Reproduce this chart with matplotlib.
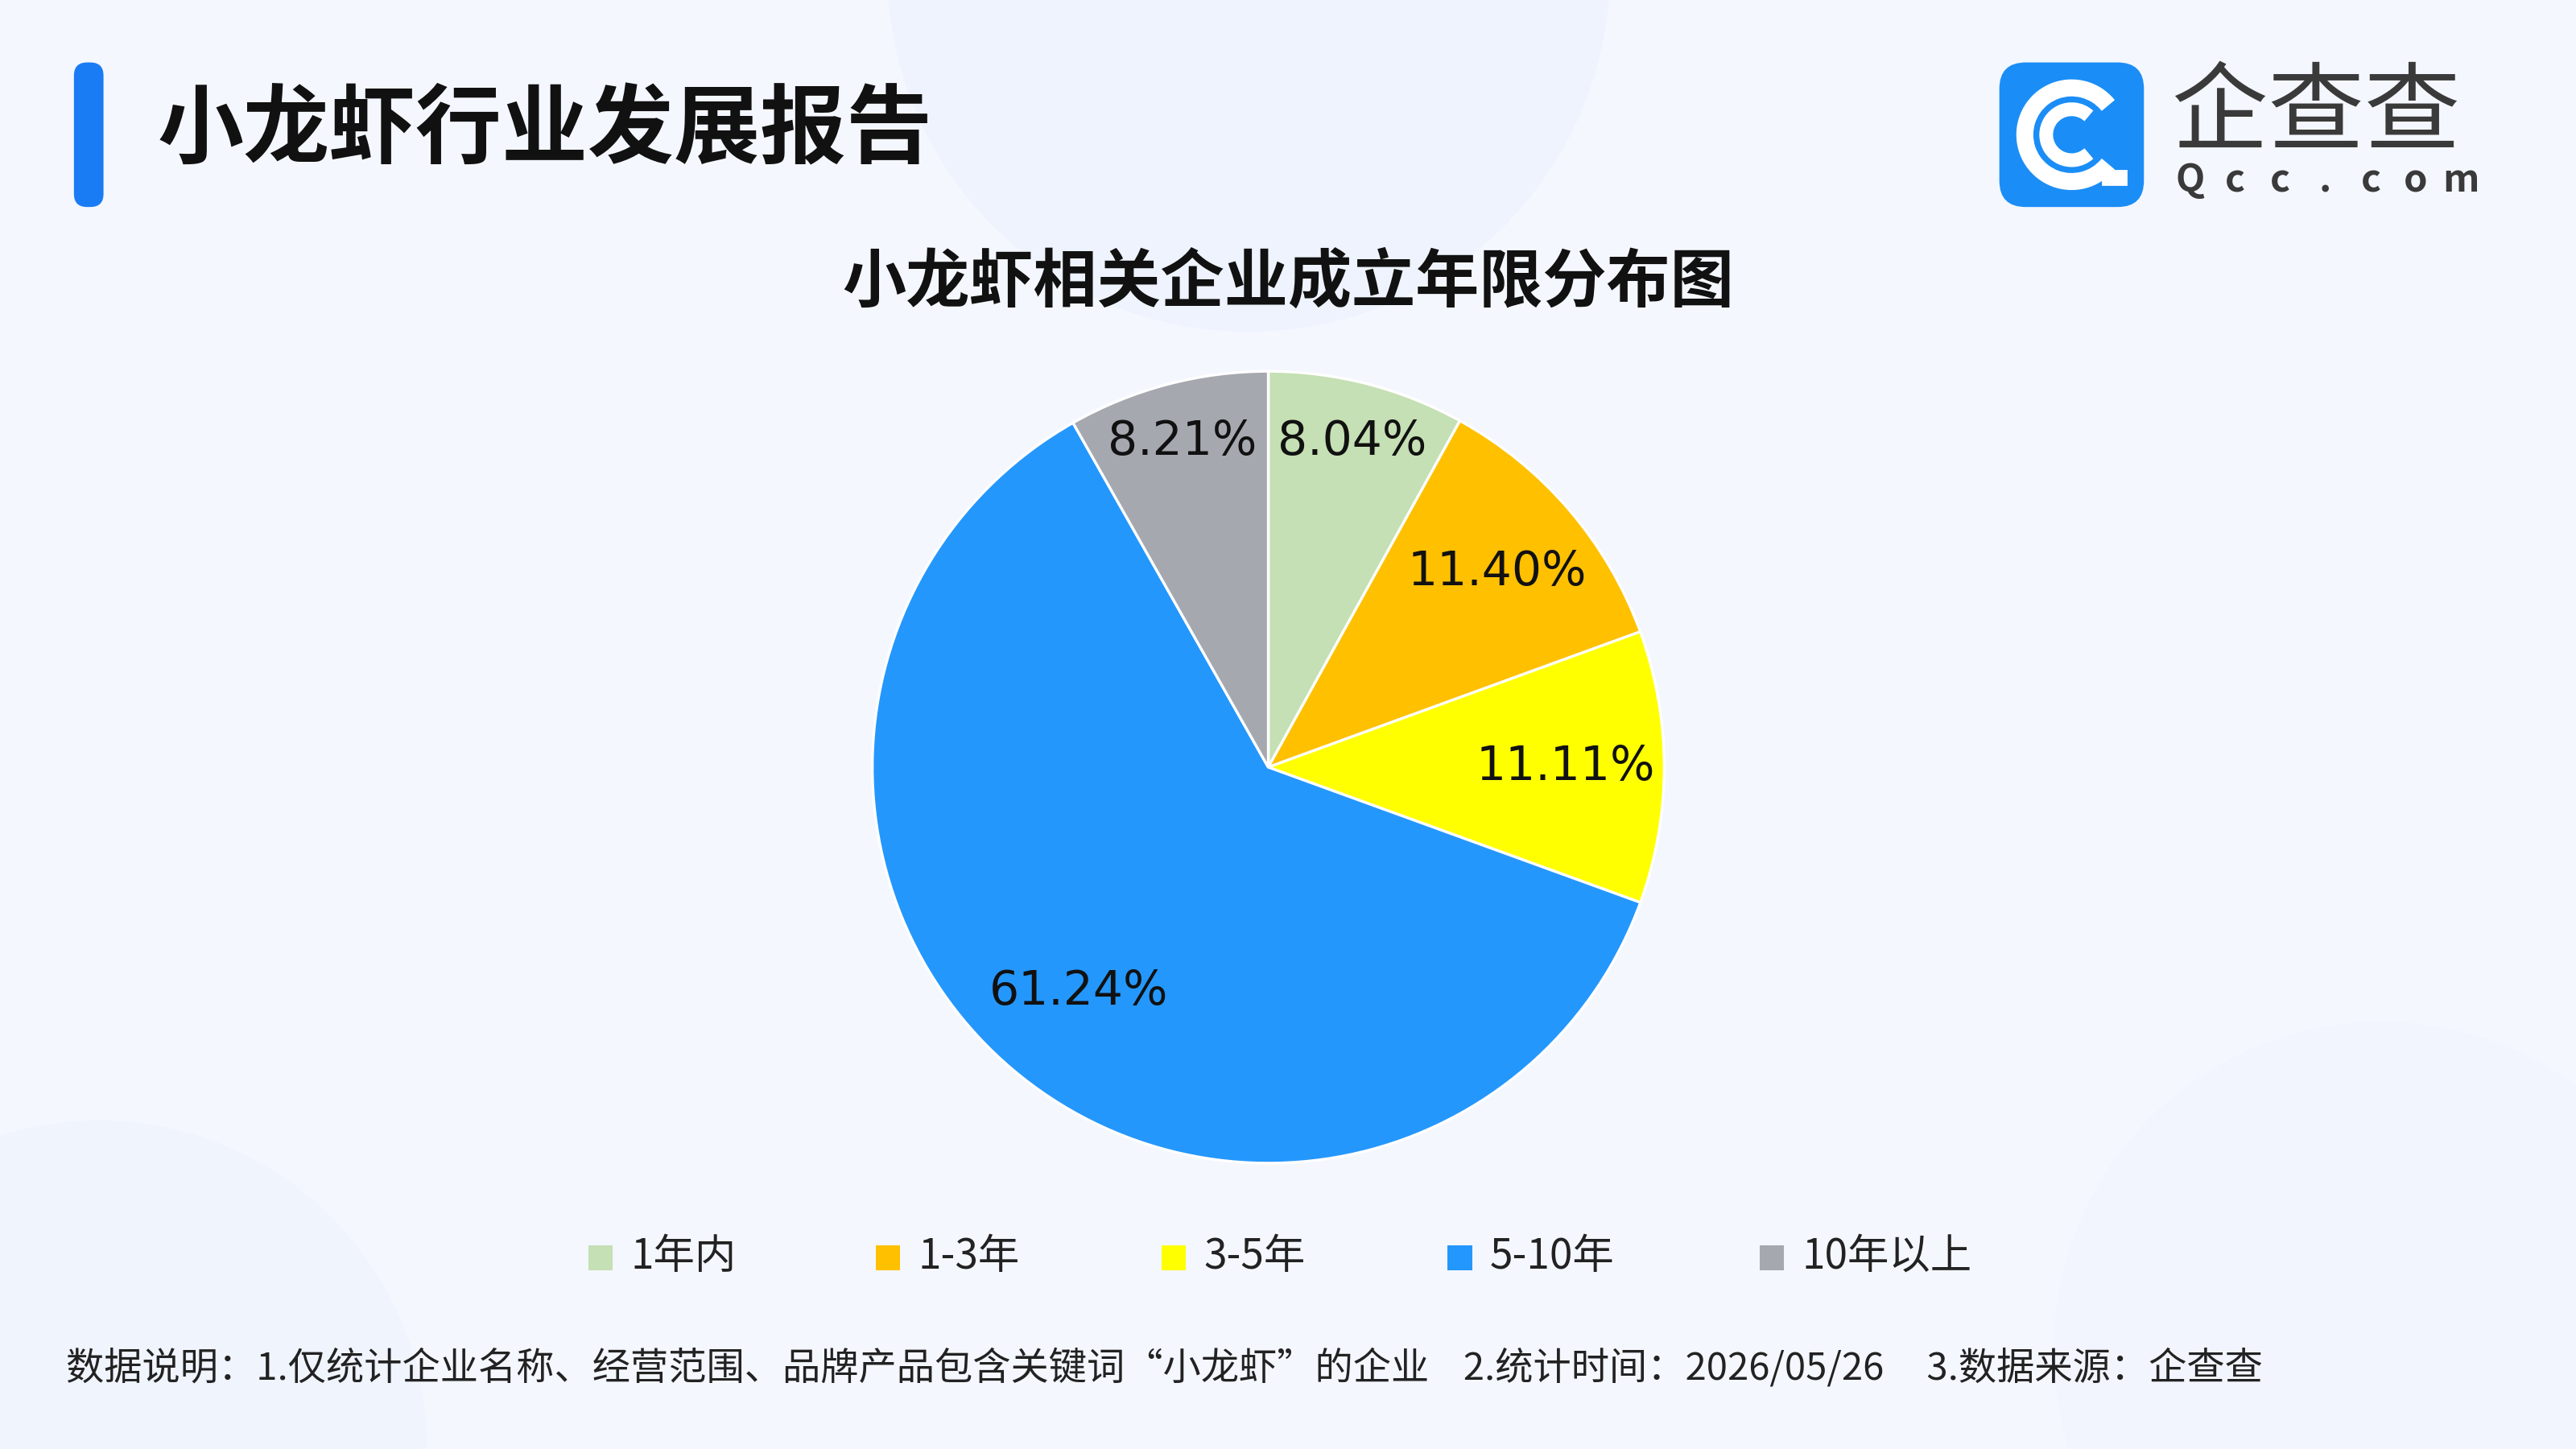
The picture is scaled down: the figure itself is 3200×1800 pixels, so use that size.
import matplotlib
matplotlib.use("Agg")
import matplotlib.pyplot as plt
import numpy as np
from matplotlib.patches import FancyBboxPatch, Rectangle, Circle, Wedge

plt.rcParams['font.family'] = ['Noto Sans CJK SC', 'DejaVu Sans']

categories = ['1年内', '1-3年', '3-5年', '5-10年', '10年以上']
values = [8.04, 11.40, 11.11, 61.24, 8.21]
colors = ['#C5E0B4', '#FFC000', '#FFFF00', '#2497FD', '#A5A9AF']
label_dist = [0.85, 0.76, 0.75, 0.74, 0.85]

W, H = 1568, 882
fig = plt.figure(figsize=(16, 9), dpi=200, facecolor='#F4F7FE')
ax = fig.add_axes([0, 0, 1, 1])
ax.set_xlim(0, W); ax.set_ylim(0, H); ax.set_aspect('equal'); ax.axis('off')

for (cx, cy, r, c, a) in [(760, 900, 220, '#E8EFFC', 0.45), (1450, 60, 200, '#EEF3FD', 0.3), (60, 0, 200, '#EBF1FC', 0.4)]:
    ax.add_patch(Circle((cx, cy), r, color=c, alpha=a, lw=0, zorder=0))

def Y(y): return H - y

ax.add_patch(FancyBboxPatch((45, Y(126)), 18, 88, boxstyle="round,pad=0,rounding_size=8", color='#1A7CF5', lw=0))
ax.text(96, Y(80), '小龙虾行业发展报告', fontsize=38.5, fontweight='bold', color='#111111', va='center', ha='left')

ax.add_patch(FancyBboxPatch((1217, Y(126)), 88, 88, boxstyle="round,pad=0,rounding_size=16", color='#1B8DF6', lw=0))
lc = (1261, Y(82))
ax.add_patch(Wedge(lc, 33, 40, 320, width=9, color='white'))
ax.add_patch(Wedge(lc, 19, 50, 310, width=7, color='white'))
ax.add_patch(Rectangle((1280, Y(112)), 14, 8, color='white'))
ax.text(1410, Y(70), '企查查', fontsize=43, color='#3A3A3A', ha='center', va='center')
for i, ch in enumerate('Qcc.com'):
    ax.text(1333 + i * 27.5, Y(110), ch, fontsize=17, fontweight='bold', color='#3A3A3A', ha='center', va='center')

ax.text(784, Y(172), '小龙虾相关企业成立年限分布图', fontsize=28.5, fontweight='bold', color='#111111', ha='center', va='center')

center = (772, Y(467)); R = 241
ax.pie(values, colors=colors, startangle=90, counterclock=False, center=center, radius=R,
       wedgeprops=dict(edgecolor='white', linewidth=1.2), frame=True)
ax.set_xlim(0, W); ax.set_ylim(0, H); ax.axis('off')
total = sum(values)
ang = 90.0
for v, d in zip(values, label_dist):
    mid = ang - v / total * 360 / 2
    ang -= v / total * 360
    x = center[0] + d * R * np.cos(np.radians(mid))
    y = center[1] + d * R * np.sin(np.radians(mid))
    ax.text(x, y, f'{v:.2f}%', fontsize=21, color='#111111', ha='center', va='center',
            family=['DejaVu Sans'])

lx = [358, 533, 707, 881, 1071]
for x, c, lab in zip(lx, colors, categories):
    ax.add_patch(Rectangle((x, Y(773)), 15, 15, color=c, lw=0))
    ax.text(x + 26, Y(765), lab, fontsize=18.5, color='#222222', ha='left', va='center')

ax.text(40, Y(833), '数据说明：1.仅统计企业名称、经营范围、品牌产品包含关键词“小龙虾”的企业    2.统计时间：2026/05/26     3.数据来源：企查查',
        fontsize=17, color='#222222', ha='left', va='center')

fig.savefig('out.png', dpi=200, facecolor=fig.get_facecolor())
